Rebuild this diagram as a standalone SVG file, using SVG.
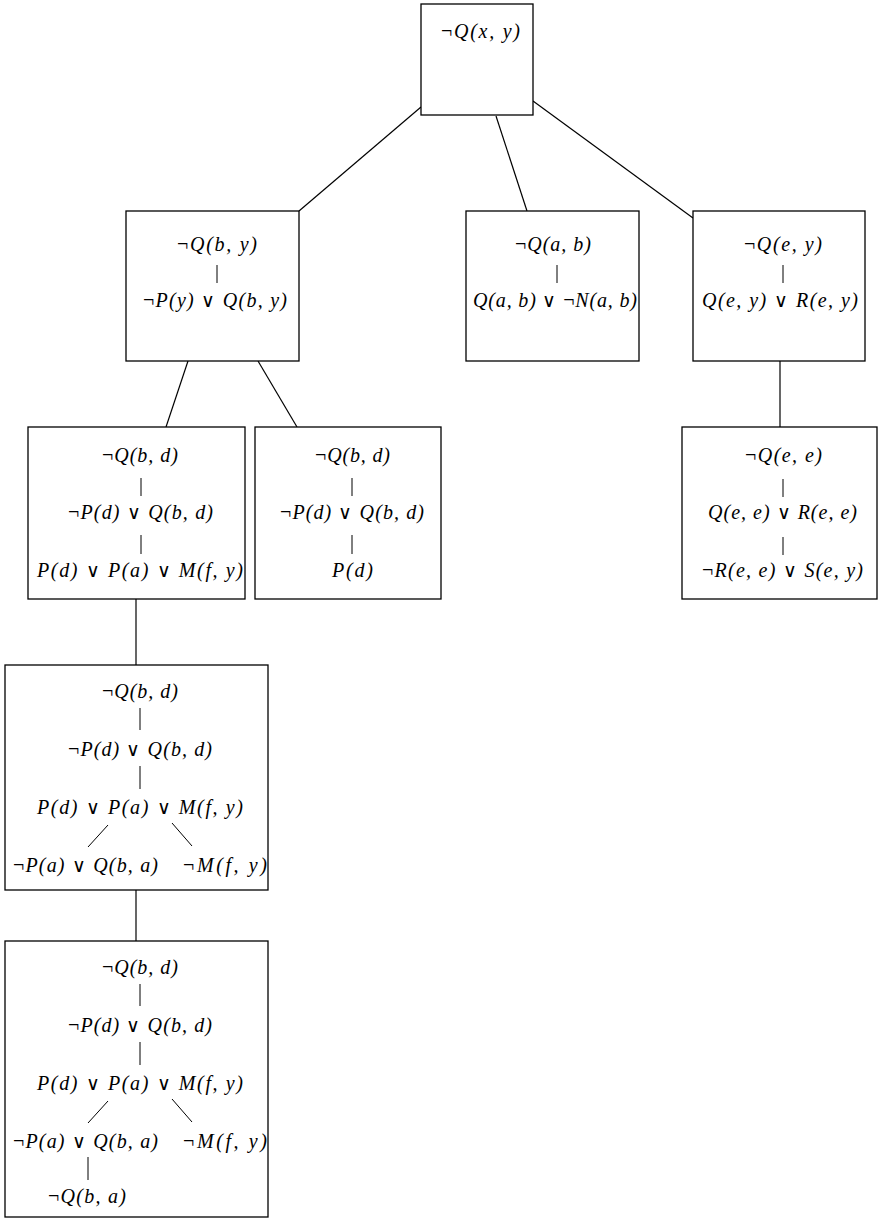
<svg xmlns="http://www.w3.org/2000/svg" width="878" height="1219" viewBox="0 0 878 1219">
<style>
.box{fill:#fff;stroke:#000;stroke-width:1.3}
.ln{stroke:#000;stroke-width:1.2;fill:none}
.bar{stroke:#000;stroke-width:1;fill:none}
text{font-family:"Liberation Serif","DejaVu Serif",serif;font-size:20px;font-style:italic;fill:#000}
.u{font-style:normal}
.v{font-style:normal;font-family:"DejaVu Sans",sans-serif;font-weight:200;font-size:19px}
</style>
<g id="connectors">
<line class="ln" x1="421" y1="107" x2="299" y2="211"/>
<line class="ln" x1="496" y1="116" x2="527" y2="211"/>
<line class="ln" x1="533" y1="101" x2="693" y2="218"/>
<line class="ln" x1="188" y1="361" x2="166" y2="427"/>
<line class="ln" x1="258" y1="361" x2="297" y2="427"/>
<line class="ln" x1="780" y1="361" x2="780" y2="427"/>
<line class="ln" x1="136" y1="599" x2="136" y2="665"/>
<line class="ln" x1="136" y1="890" x2="136" y2="941"/>
</g>
<g id="n0">
<rect class="box" x="421" y="4" width="112" height="111"/>
<text x="441" y="38" textLength="79" lengthAdjust="spacing"><tspan class="u">¬</tspan>Q(x, y)</text>
</g>
<g id="n1">
<rect class="box" x="126" y="211" width="173" height="150"/>
<text x="177" y="251" textLength="80" lengthAdjust="spacing"><tspan class="u">¬</tspan>Q(b, y)</text>
<line class="bar" x1="217" y1="265" x2="217" y2="283"/>
<text x="143" y="307" textLength="144" lengthAdjust="spacing"><tspan class="u">¬</tspan>P(y) <tspan class="v">∨</tspan> Q(b, y)</text>
</g>
<g id="n2">
<rect class="box" x="466" y="211" width="173" height="150"/>
<text x="515" y="251" textLength="76" lengthAdjust="spacing"><tspan class="u">¬</tspan>Q(a, b)</text>
<line class="bar" x1="557" y1="265" x2="557" y2="283"/>
<text x="473" y="307" textLength="164" lengthAdjust="spacing">Q(a, b) <tspan class="v">∨</tspan> <tspan class="u">¬</tspan>N(a, b)</text>
</g>
<g id="n3">
<rect class="box" x="693" y="211" width="172" height="150"/>
<text x="744" y="251" textLength="78" lengthAdjust="spacing"><tspan class="u">¬</tspan>Q(e, y)</text>
<line class="bar" x1="783" y1="265" x2="783" y2="283"/>
<text x="702" y="307" textLength="156" lengthAdjust="spacing">Q(e, y) <tspan class="v">∨</tspan> R(e, y)</text>
</g>
<g id="n4">
<rect class="box" x="28" y="427" width="217" height="172"/>
<text x="102" y="462" textLength="76" lengthAdjust="spacing"><tspan class="u">¬</tspan>Q(b, d)</text>
<line class="bar" x1="141" y1="478" x2="141" y2="496"/>
<text x="68" y="519" textLength="145" lengthAdjust="spacing"><tspan class="u">¬</tspan>P(d) <tspan class="v">∨</tspan> Q(b, d)</text>
<line class="bar" x1="141" y1="535" x2="141" y2="554"/>
<text x="37" y="577" textLength="206" lengthAdjust="spacing">P(d) <tspan class="v">∨</tspan> P(a) <tspan class="v">∨</tspan> M(f, y)</text>
</g>
<g id="n5">
<rect class="box" x="255" y="427" width="186" height="172"/>
<text x="315" y="462" textLength="75" lengthAdjust="spacing"><tspan class="u">¬</tspan>Q(b, d)</text>
<line class="bar" x1="352" y1="478" x2="352" y2="496"/>
<text x="280" y="519" textLength="144" lengthAdjust="spacing"><tspan class="u">¬</tspan>P(d) <tspan class="v">∨</tspan> Q(b, d)</text>
<line class="bar" x1="352" y1="535" x2="352" y2="554"/>
<text x="332" y="577" textLength="41" lengthAdjust="spacing">P(d)</text>
</g>
<g id="n6">
<rect class="box" x="682" y="427" width="195" height="172"/>
<text x="745" y="462" textLength="77" lengthAdjust="spacing"><tspan class="u">¬</tspan>Q(e, e)</text>
<line class="bar" x1="783" y1="479" x2="783" y2="497"/>
<text x="708" y="519" textLength="149" lengthAdjust="spacing">Q(e, e) <tspan class="v">∨</tspan> R(e, e)</text>
<line class="bar" x1="783" y1="537" x2="783" y2="555"/>
<text x="702" y="577" textLength="161" lengthAdjust="spacing"><tspan class="u">¬</tspan>R(e, e) <tspan class="v">∨</tspan> S(e, y)</text>
</g>
<g id="n7">
<rect class="box" x="5" y="665" width="263" height="225"/>
<text x="102" y="698" textLength="76" lengthAdjust="spacing"><tspan class="u">¬</tspan>Q(b, d)</text>
<line class="bar" x1="140" y1="708" x2="140" y2="730"/>
<text x="68" y="756" textLength="144" lengthAdjust="spacing"><tspan class="u">¬</tspan>P(d) <tspan class="v">∨</tspan> Q(b, d)</text>
<line class="bar" x1="140" y1="766" x2="140" y2="789"/>
<text x="37" y="814" textLength="206" lengthAdjust="spacing">P(d) <tspan class="v">∨</tspan> P(a) <tspan class="v">∨</tspan> M(f, y)</text>
<line class="bar" x1="108" y1="825" x2="88" y2="847"/>
<line class="bar" x1="172" y1="823" x2="192" y2="846"/>
<text x="13" y="872" textLength="145" lengthAdjust="spacing"><tspan class="u">¬</tspan>P(a) <tspan class="v">∨</tspan> Q(b, a)</text>
<text x="183" y="872" textLength="84" lengthAdjust="spacing"><tspan class="u">¬</tspan>M(f, y)</text>
</g>
<g id="n8">
<rect class="box" x="5" y="941" width="263" height="276"/>
<text x="102" y="974" textLength="76" lengthAdjust="spacing"><tspan class="u">¬</tspan>Q(b, d)</text>
<line class="bar" x1="140" y1="984" x2="140" y2="1006"/>
<text x="68" y="1032" textLength="144" lengthAdjust="spacing"><tspan class="u">¬</tspan>P(d) <tspan class="v">∨</tspan> Q(b, d)</text>
<line class="bar" x1="140" y1="1042" x2="140" y2="1065"/>
<text x="37" y="1090" textLength="206" lengthAdjust="spacing">P(d) <tspan class="v">∨</tspan> P(a) <tspan class="v">∨</tspan> M(f, y)</text>
<line class="bar" x1="108" y1="1101" x2="88" y2="1123"/>
<line class="bar" x1="172" y1="1099" x2="192" y2="1122"/>
<text x="13" y="1148" textLength="145" lengthAdjust="spacing"><tspan class="u">¬</tspan>P(a) <tspan class="v">∨</tspan> Q(b, a)</text>
<text x="183" y="1148" textLength="84" lengthAdjust="spacing"><tspan class="u">¬</tspan>M(f, y)</text>
<line class="bar" x1="88" y1="1157" x2="88" y2="1180"/>
<text x="48" y="1203" textLength="78" lengthAdjust="spacing"><tspan class="u">¬</tspan>Q(b, a)</text>
</g>
</svg>
